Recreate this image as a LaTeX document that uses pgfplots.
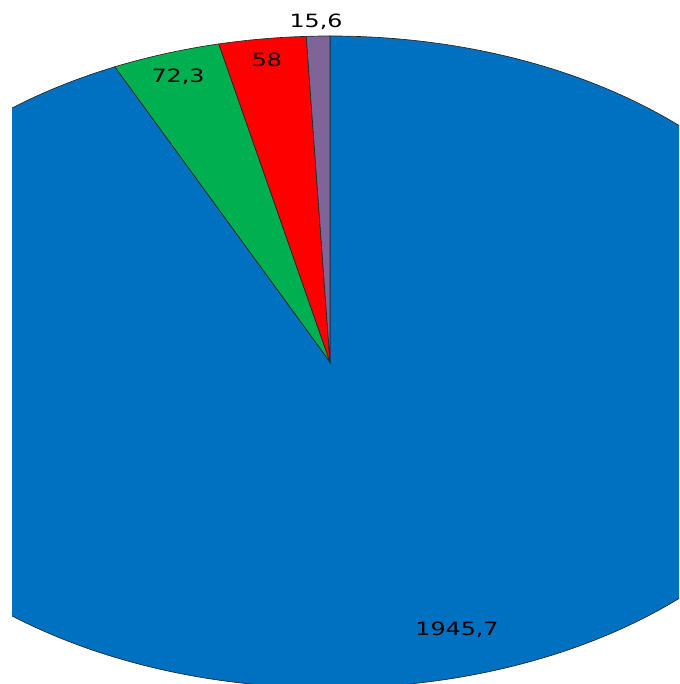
\documentclass[border=0pt]{standalone}
\usepackage{pgfplots}
\pgfplotsset{compat=1.18}
\usepackage{pgfplotstable}
\usepackage{fontspec}
\setmainfont{DejaVu Sans}
\definecolor{sblue}{HTML}{0070C0}
\definecolor{sgreen}{HTML}{00B050}
\definecolor{sred}{HTML}{FF0000}
\definecolor{spurple}{HTML}{7F6498}

\pgfplotstableread{
value
1945.7
72.3
58
15.6
}\pietable

\pgfplotstablegetelem{0}{value}\of\pietable \let\vA\pgfplotsretval
\pgfplotstablegetelem{1}{value}\of\pietable \let\vB\pgfplotsretval
\pgfplotstablegetelem{2}{value}\of\pietable \let\vC\pgfplotsretval
\pgfplotstablegetelem{3}{value}\of\pietable \let\vD\pgfplotsretval
\pgfmathsetmacro{\vT}{\vA+\vB+\vC+\vD}
\pgfmathsetmacro{\eA}{90-(\vA/\vT)*360}
\pgfmathsetmacro{\eB}{\eA-(\vB/\vT)*360}
\pgfmathsetmacro{\eC}{\eB-(\vC/\vT)*360}
\pgfmathsetmacro{\eD}{\eC-(\vD/\vT)*360}

\begin{document}
\begin{tikzpicture}
\path[use as bounding box] (0,0) rectangle (509.25pt,513pt);
\begin{axis}[at={(0,0)}, anchor=south west, scale only axis,
  width=509.25pt, height=513pt,
  xmin=0, xmax=679, ymin=0, ymax=684,
  hide axis, clip=false]
\begin{scope}
\clip (axis cs:12,0) rectangle (axis cs:679,684);
\filldraw[fill=sblue, draw=black!85, line width=0.5pt]
  (axis cs:330,322) -- ([shift={(90:380.25pt and 244.5pt)}]axis cs:330,322)
  arc[start angle=90, end angle=\eA, x radius=380.25pt, y radius=244.5pt] -- cycle;
\filldraw[fill=sgreen, draw=black!85, line width=0.5pt]
  (axis cs:330,322) -- ([shift={(\eA:380.25pt and 244.5pt)}]axis cs:330,322)
  arc[start angle=\eA, end angle=\eB, x radius=380.25pt, y radius=244.5pt] -- cycle;
\filldraw[fill=sred, draw=black!85, line width=0.5pt]
  (axis cs:330,322) -- ([shift={(\eB:380.25pt and 244.5pt)}]axis cs:330,322)
  arc[start angle=\eB, end angle=\eC, x radius=380.25pt, y radius=244.5pt] -- cycle;
\filldraw[fill=spurple, draw=black!85, line width=0.5pt]
  (axis cs:330,322) -- ([shift={(\eC:380.25pt and 244.5pt)}]axis cs:330,322)
  arc[start angle=\eC, end angle=\eD, x radius=380.25pt, y radius=244.5pt] -- cycle;
\end{scope}
\node[anchor=base, xscale=1.3, inner sep=0pt, font=\fontsize{13.7}{16}\selectfont] at (axis cs:316,656) {15,6};
\node[anchor=base, xscale=1.3, inner sep=0pt, font=\fontsize{13.7}{16}\selectfont] at (axis cs:267,617) {58};
\node[anchor=base, xscale=1.3, inner sep=0pt, font=\fontsize{13.7}{16}\selectfont] at (axis cs:178,601) {72,3};
\node[anchor=base, xscale=1.3, inner sep=0pt, font=\fontsize{13.7}{16}\selectfont] at (axis cs:457,48) {1945,7};
\end{axis}
\end{tikzpicture}
\end{document}
